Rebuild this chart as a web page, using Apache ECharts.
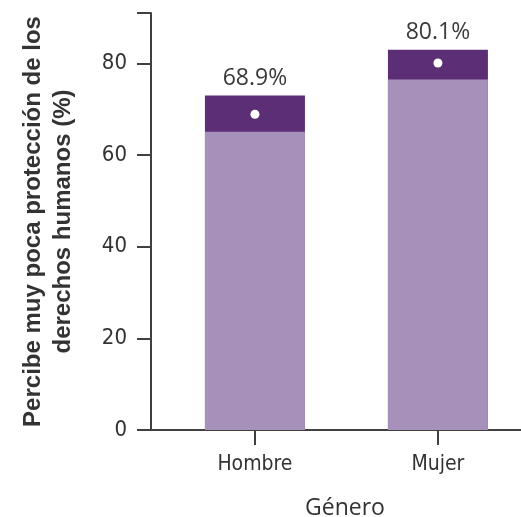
<!DOCTYPE html>
<html>
<head>
<meta charset="utf-8">
<script src="https://cdn.jsdelivr.net/npm/echarts@6/dist/echarts.min.js"></script>
<style>html,body{margin:0;padding:0;background:#fff}#c{width:521px;height:517px}</style>
</head>
<body>
<div id="c"></div>
<script>
var categories = ['Hombre', 'Mujer'];
var lowerBound = [65.1, 76.5];
var upperBound = [73.0, 83.0];
var estimate = [68.9, 80.1];
var yTicks = [0, 20, 40, 60, 80];

var catPos = categories.map(function (c, i) { return i; });
var narrow = '"DejaVu Sans Condensed", "Liberation Sans Narrow", "Arial Narrow", sans-serif';

var chart = echarts.init(document.getElementById('c'), null, { renderer: 'canvas' });
chart.setOption({
  animation: false,
  grid: { left: 151, right: 0, top: 13, bottom: 87, containLabel: false, outerBoundsMode: 'none' },
  xAxis: {
    type: 'value',
    min: -0.568,
    max: 1.454,
    name: 'Género',
    nameLocation: 'middle',
    nameGap: 67,
    nameTextStyle: { fontFamily: 'Open Sans', fontSize: 23, color: '#333', padding: [0, 0, 0, 18] },
    axisLine: { show: true, onZero: false, lineStyle: { color: '#404040', width: 2 } },
    axisTick: { show: true, customValues: catPos, length: 15, lineStyle: { color: '#404040', width: 2 } },
    axisLabel: {
      customValues: catPos,
      formatter: function (v) { return categories[Math.round(v)] || ''; },
      fontFamily: narrow, fontSize: 21, color: '#333', margin: 24
    },
    splitLine: { show: false }
  },
  yAxis: {
    type: 'value',
    min: 0,
    max: 91,
    interval: 20,
    name: 'Percibe muy poca protección de los\nderechos humanos (%)',
    nameLocation: 'middle',
    nameGap: 73,
    nameTextStyle: { fontFamily: 'Liberation Sans', fontWeight: 'bold', fontSize: 24, color: '#333', lineHeight: 30 },
    axisLine: { show: true, onZero: false, lineStyle: { color: '#404040', width: 2 } },
    axisTick: { show: true, length: 14, lineStyle: { color: '#404040', width: 2 } },
    axisLabel: { fontFamily: narrow, fontSize: 22, color: '#333', margin: 24,
      customValues: yTicks },
    splitLine: { show: false }
  },
  series: [
    {
      type: 'bar', barWidth: 100, barGap: '-100%',
      data: catPos.map(function (x, i) { return [x, upperBound[i]]; }),
      itemStyle: { color: '#5B2E76' },
      label: {
        show: true, position: 'top', distance: 6,
        formatter: function (p) { return estimate[p.dataIndex].toFixed(1) + '%'; },
        fontFamily: 'Open Sans', fontSize: 23, color: '#3a3a3a'
      },
      z: 2
    },
    {
      type: 'bar', barWidth: 100, barGap: '-100%',
      data: catPos.map(function (x, i) { return [x, lowerBound[i]]; }),
      itemStyle: { color: '#A791BA' },
      z: 3
    },
    {
      type: 'scatter', symbol: 'circle', symbolSize: 9,
      data: catPos.map(function (x, i) { return [x, estimate[i]]; }),
      itemStyle: { color: '#ffffff', opacity: 1 },
      z: 5
    }
  ]
});
</script>
</body>
</html>
